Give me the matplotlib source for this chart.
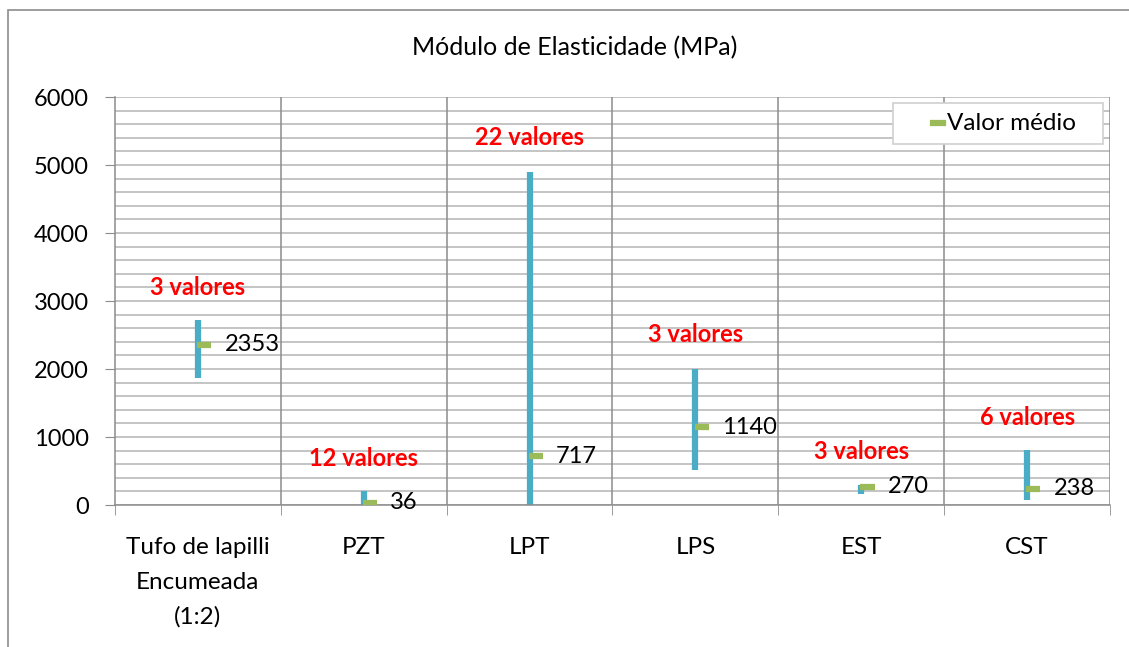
import matplotlib.pyplot as plt
from matplotlib.patches import Rectangle

categories = ['Tufo de lapilli\nEncumeada\n(1:2)', 'PZT', 'LPT', 'LPS', 'EST', 'CST']
highs = [2720, 210, 4900, 2000, 300, 810]
lows = [1870, 0, 0, 510, 160, 70]
means = [2353, 36, 717, 1140, 270, 238]
count_labels = ['3 valores', '12 valores', '22 valores', '3 valores', '3 valores', '6 valores']
count_y = [3200, 690, 5410, 2500, 790, 1290]

plt.rcParams['font.family'] = ['Lato', 'DejaVu Sans']

W, H = 1129, 647
fig = plt.figure(figsize=(W / 100, H / 100), dpi=100)
# chart border
fig.patches.append(Rectangle((8 / W, -0.01), 1.0, (H - 10) / H + 0.01,
                             transform=fig.transFigure, fill=False,
                             edgecolor='#8c8c8c', linewidth=1.2))
ax = fig.add_axes([115 / W, (H - 505) / H, 995 / W, 408 / H])

xs = list(range(len(categories)))

# gridlines
for v in range(0, 6001, 200):
    ax.axhline(v, color='#b4b4b4', linewidth=1.1, zorder=0)
for b in range(1, len(categories) + 1):
    ax.axvline(b - 0.5, color='#8c8c8c', linewidth=1.1, zorder=0)

ax.vlines(xs, lows, highs, color='#4bacc6', linewidth=4.5, zorder=2)
ax.hlines(means, [x - 0.005 for x in xs], [x + 0.08 for x in xs],
          color='#9bbb59', linewidth=4.5, zorder=3)

for x, m in zip(xs, means):
    ax.text(x + 0.16, m, str(m), fontsize=17, va='center', ha='left', color='black')
for x, lab, y in zip(xs, count_labels, count_y):
    ax.text(x, y, lab, fontsize=17, fontweight='bold', color='#ff0000',
            ha='center', va='center')

ax.set_xlim(-0.5, len(categories) - 0.5)
ax.set_ylim(0, 6000)
ax.set_yticks(range(0, 6001, 1000))
ax.set_xticks(xs)
ax.set_xticklabels(categories, fontsize=17.5, linespacing=1.8)
ax.set_xticks([x - 0.5 for x in range(len(categories) + 1)], minor=True)
ax.tick_params(axis='x', which='major', length=0, pad=23)
ax.tick_params(axis='x', which='minor', length=7, color='#8c8c8c')
ax.tick_params(axis='y', labelsize=17, length=7, color='#8c8c8c', pad=12)
for s in ['top', 'right']:
    ax.spines[s].set_visible(False)
for s in ['left', 'bottom']:
    ax.spines[s].set_color('#8c8c8c')
    ax.spines[s].set_linewidth(1.1)

# legend box (Excel style: wide box, key sits just left of the text)
fig.patches.append(Rectangle((893 / W, 1 - 144 / H), 210 / W, 41 / H,
                             transform=fig.transFigure, facecolor='white',
                             edgecolor='#d0d0d0', linewidth=1.2, zorder=5))
fig.lines.append(plt.Line2D([933 / W, 943 / W], [1 - 123 / H, 1 - 123 / H],
                            transform=fig.transFigure, color='#9bbb59',
                            linewidth=4.5, zorder=6))
fig.text(947 / W, 1 - 123 / H, 'Valor médio', fontsize=17.5, ha='left',
         va='center', zorder=6)

fig.text(575 / W, 1 - 48 / H, 'Módulo de Elasticidade (MPa)', fontsize=18,
         ha='center', va='center')

fig.savefig('out.png', dpi=100)
